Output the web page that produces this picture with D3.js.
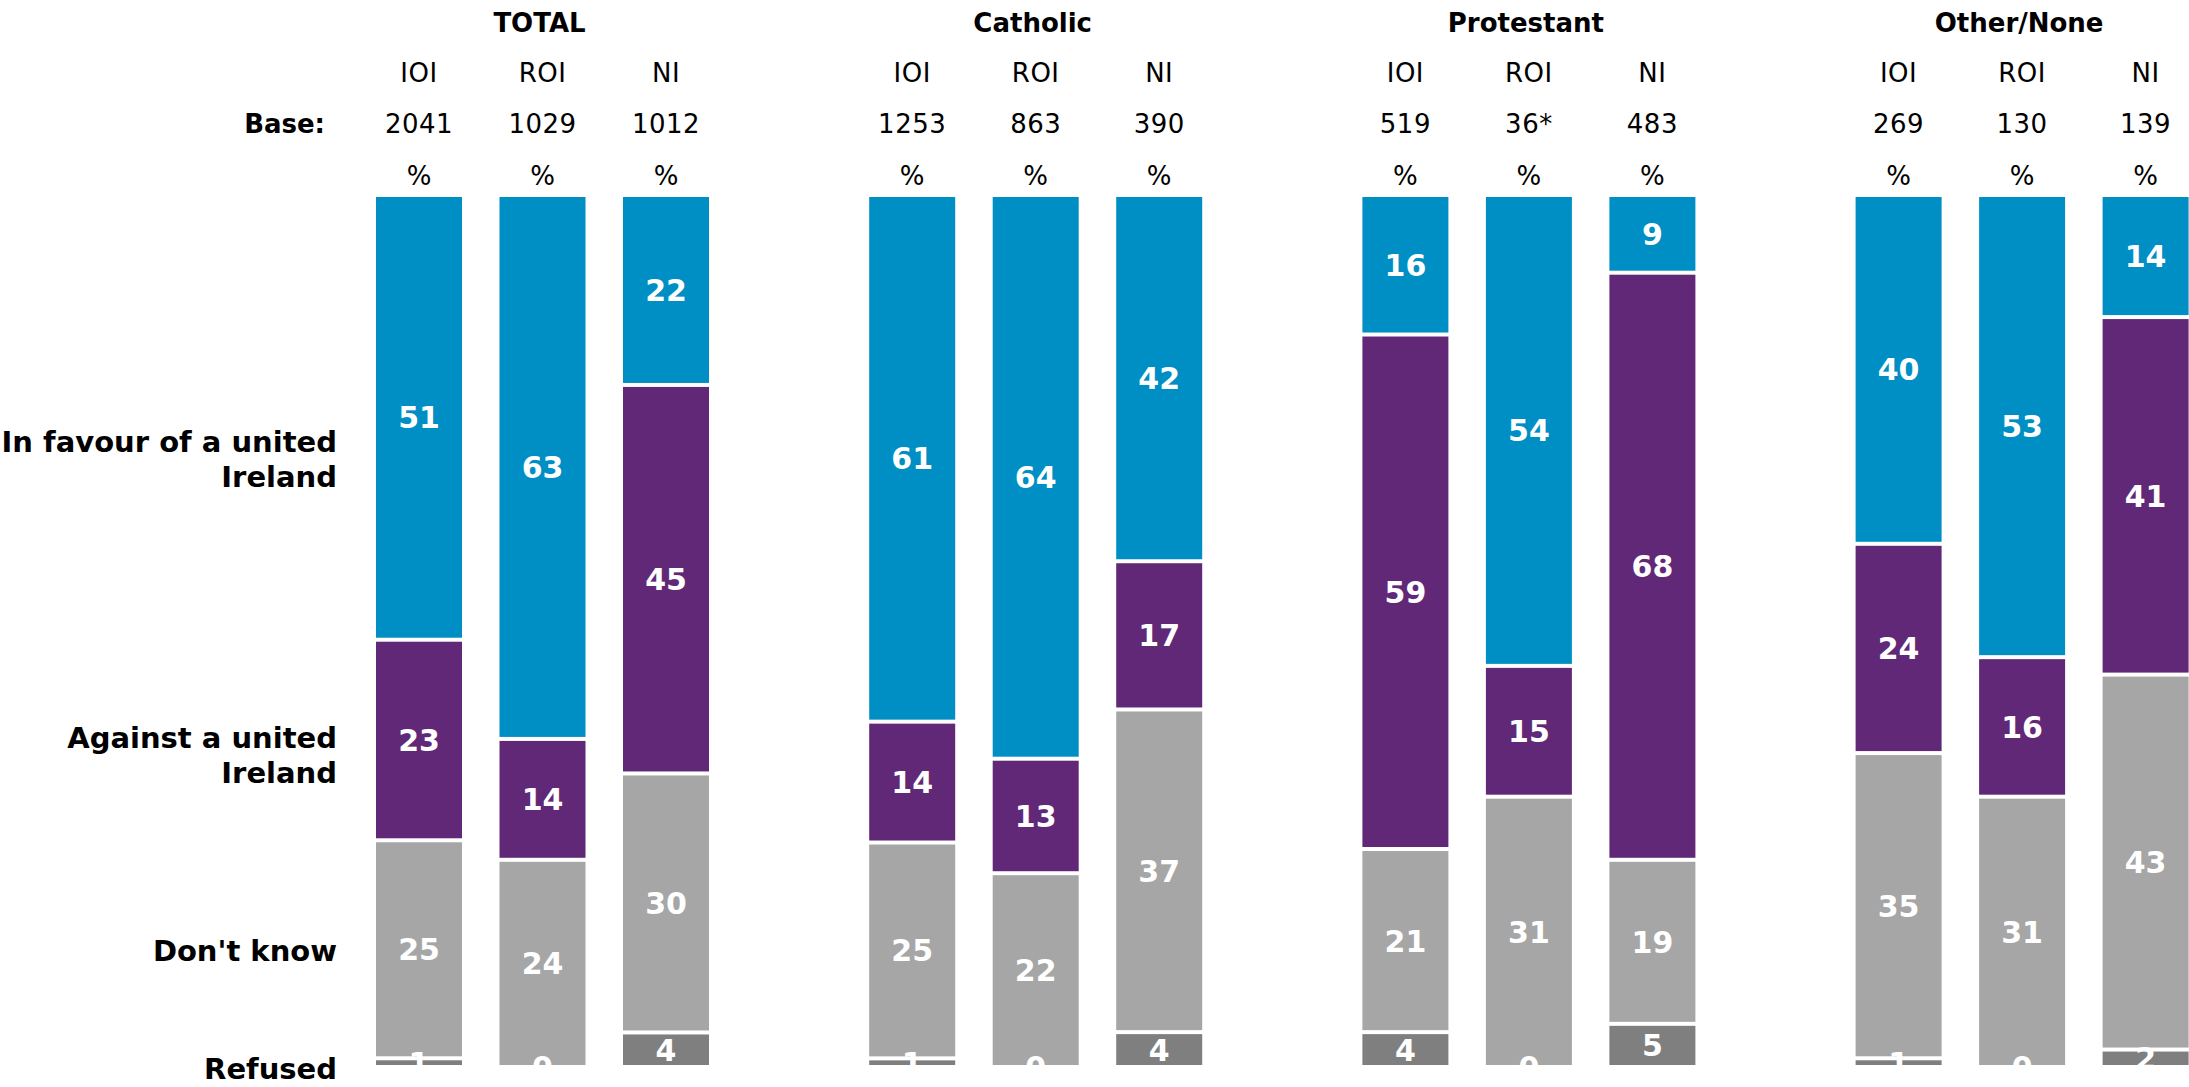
<!DOCTYPE html>
<html>
<head>
<meta charset="utf-8">
<script src="https://cdn.jsdelivr.net/npm/d3@7"></script>
<style>
  html, body { margin: 0; padding: 0; background: #fff; overflow: hidden; }
  svg { display: block; font-family: "DejaVu Sans", Verdana, sans-serif; }
</style>
</head>
<body>
<svg id="chart" width="2189" height="1087"></svg>
<script>
// ---- data ----
const groups = ["TOTAL", "Catholic", "Protestant", "Other/None"];
const regions = ["IOI", "ROI", "NI"];
const bases = [["2041", "1029", "1012"], ["1253", "863", "390"], ["519", "36*", "483"], ["269", "130", "139"]];
const seriesNames = ["Refused", "Don't know", "Against a united Ireland", "In favour of a united Ireland"];
const refused  = [1, 0, 4,   1, 0, 4,   4, 0, 5,   1, 0, 2];
const dontKnow = [25, 24, 30, 25, 22, 37, 21, 31, 19, 35, 31, 43];
const against  = [23, 14, 45, 14, 13, 17, 59, 15, 68, 24, 16, 41];
const inFavour = [51, 63, 22, 61, 64, 42, 16, 54, 9,  40, 53, 14];
const colors = ["#7f7f7f", "#a6a6a6", "#612878", "#008fc4"];
const rowLabels = [
  { lines: ["In favour of a united", "Ireland"], y: [452, 487] },
  { lines: ["Against a united", "Ireland"], y: [748, 783] },
  { lines: ["Don't know"], y: [961] },
  { lines: ["Refused"], y: [1079] }
];

// ---- build table ----
const rows = [];
groups.forEach((g, gi) => regions.forEach((r, ri) => {
  const i = gi * 3 + ri;
  rows.push({ group: g, region: r,
    "Refused": refused[i], "Don't know": dontKnow[i],
    "Against a united Ireland": against[i], "In favour of a united Ireland": inFavour[i] });
}));

const stack = d3.stack().keys(seriesNames).offset(d3.stackOffsetExpand);
const stacked = stack(rows);

const svg = d3.select("#chart");

const groupStep = 493.2;
const x0 = d3.scaleBand().domain(groups).range([376, 376 + groupStep * 4]).padding(0);
const x1 = d3.scaleBand().domain(regions).range([0, 333]).paddingInner(37.5 / 123.5).paddingOuter(0);
const y = d3.scaleLinear().domain([0, 1]).range([1067, 195]);
const gap = 2;

svg.append("defs").append("clipPath").attr("id", "plotclip")
  .append("rect").attr("x", 0).attr("y", 0).attr("width", 2189).attr("height", 1065);

const plot = svg.append("g").attr("clip-path", "url(#plotclip)");

stacked.forEach((layer, li) => {
  const g = plot.append("g").attr("fill", colors[li]);
  g.selectAll("rect").data(layer).enter().append("rect")
    .attr("x", d => x0(d.data.group) + x1(d.data.region))
    .attr("width", x1.bandwidth())
    .attr("y", d => y(d[1]) + gap)
    .attr("height", d => Math.max(0, y(d[0]) - y(d[1]) - 2 * gap));
});

stacked.forEach((layer) => {
  plot.append("g").selectAll("text").data(layer).enter().append("text")
    .attr("x", d => x0(d.data.group) + x1(d.data.region) + x1.bandwidth() / 2)
    .attr("y", d => (y(d[0]) + y(d[1])) / 2 + 11)
    .attr("text-anchor", "middle")
    .attr("fill", "#fff")
    .attr("font-weight", "bold")
    .attr("font-size", 30)
    .text(d => d.data[layer.key]);
});

// ---- headers ----
groups.forEach((g, gi) => {
  const gx = x0(g);
  svg.append("text")
    .attr("x", gx + x1("ROI") + x1.bandwidth() / 2 - 3)
    .attr("y", 32)
    .attr("text-anchor", "middle")
    .attr("font-weight", "bold")
    .attr("font-size", 26)
    .attr("fill", "#000")
    .text(g);
  regions.forEach((r, ri) => {
    const cx = gx + x1(r) + x1.bandwidth() / 2;
    svg.append("text").attr("x", cx).attr("y", 82).attr("text-anchor", "middle")
      .attr("font-size", 26).attr("letter-spacing", 0.5).attr("fill", "#000").text(r);
    svg.append("text").attr("x", cx).attr("y", 133).attr("text-anchor", "middle")
      .attr("font-size", 26).attr("letter-spacing", 0.5).attr("fill", "#000").text(bases[gi][ri]);
    svg.append("text").attr("x", cx).attr("y", 185).attr("text-anchor", "middle")
      .attr("font-size", 26).attr("fill", "#000").text("%");
  });
});

svg.append("text").attr("x", 325).attr("y", 133).attr("text-anchor", "end")
  .attr("font-weight", "bold").attr("font-size", 26).attr("fill", "#000").text("Base:");

rowLabels.forEach(rl => {
  rl.lines.forEach((ln, i) => {
    svg.append("text").attr("x", 337).attr("y", rl.y[i]).attr("text-anchor", "end")
      .attr("font-weight", "bold").attr("font-size", 29).attr("fill", "#000").text(ln);
  });
});
</script>
</body>
</html>
